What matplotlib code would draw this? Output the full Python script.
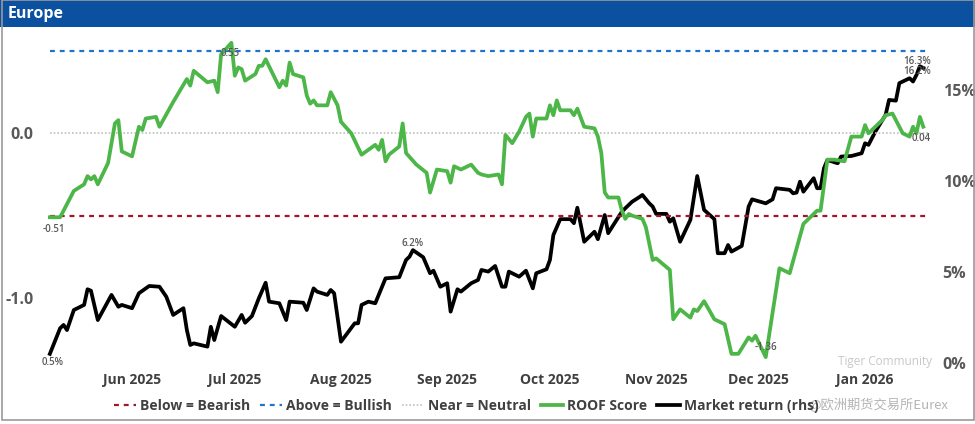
import matplotlib
matplotlib.use("Agg")
import matplotlib.pyplot as plt
import matplotlib.dates as mdates
from matplotlib.patches import Rectangle
import pandas as pd

plt.rcParams['font.family'] = ['Open Sans', 'Noto Sans CJK SC', 'DejaVu Sans']

TITLE = "Europe"

# ROOF score (left axis)
roof_dates = [
    "2025-05-08", "2025-05-11", "2025-05-15", "2025-05-18", "2025-05-19", "2025-05-20", "2025-05-21", "2025-05-22",
    "2025-05-25", "2025-05-27", "2025-05-28", "2025-05-29",
    "2025-06-01", "2025-06-03", "2025-06-04", "2025-06-05", "2025-06-08", "2025-06-09", "2025-06-13", "2025-06-17",
    "2025-06-18", "2025-06-19", "2025-06-23", "2025-06-25", "2025-06-26", "2025-06-27", "2025-06-30",
    "2025-07-01", "2025-07-02", "2025-07-03", "2025-07-04", "2025-07-07", "2025-07-08", "2025-07-09", "2025-07-10",
    "2025-07-14", "2025-07-15", "2025-07-16", "2025-07-17", "2025-07-18", "2025-07-21", "2025-07-22", "2025-07-23",
    "2025-07-24", "2025-07-25", "2025-07-28", "2025-07-29", "2025-07-31",
    "2025-08-01", "2025-08-04", "2025-08-07", "2025-08-11", "2025-08-12", "2025-08-13", "2025-08-14", "2025-08-15",
    "2025-08-18", "2025-08-19", "2025-08-20", "2025-08-23", "2025-08-26", "2025-08-27", "2025-08-29",
    "2025-09-01", "2025-09-02", "2025-09-03", "2025-09-05", "2025-09-08", "2025-09-10", "2025-09-11", "2025-09-13",
    "2025-09-16", "2025-09-17", "2025-09-18", "2025-09-20", "2025-09-22", "2025-09-24", "2025-09-25", "2025-09-26",
    "2025-09-27", "2025-09-30",
    "2025-10-01", "2025-10-02", "2025-10-03", "2025-10-04", "2025-10-07", "2025-10-08", "2025-10-09", "2025-10-11",
    "2025-10-14", "2025-10-15", "2025-10-16", "2025-10-17", "2025-10-18", "2025-10-21", "2025-10-22", "2025-10-23",
    "2025-10-24", "2025-10-25", "2025-10-28", "2025-10-29", "2025-10-31",
    "2025-11-01", "2025-11-05", "2025-11-06", "2025-11-08", "2025-11-11", "2025-11-12", "2025-11-13", "2025-11-15",
    "2025-11-18", "2025-11-21", "2025-11-23", "2025-11-25", "2025-11-28", "2025-11-29", "2025-11-30",
    "2025-12-03", "2025-12-07", "2025-12-10", "2025-12-14", "2025-12-18", "2025-12-19", "2025-12-21", "2025-12-23",
    "2025-12-26", "2025-12-28", "2025-12-31",
    "2026-01-01", "2026-01-02", "2026-01-06", "2026-01-07", "2026-01-09", "2026-01-10", "2026-01-12", "2026-01-14",
    "2026-01-15", "2026-01-16", "2026-01-17", "2026-01-18",
]
roof_score = [
    -0.51, -0.51, -0.35, -0.31, -0.26, -0.28, -0.26, -0.31,
    -0.18, 0.06, 0.08, -0.11,
    -0.14, 0.04, 0.02, 0.09, 0.10, 0.04, 0.19, 0.33,
    0.29, 0.38, 0.31, 0.32, 0.25, 0.48, 0.55,
    0.35, 0.40, 0.39, 0.32, 0.36, 0.41, 0.41, 0.45,
    0.28, 0.32, 0.29, 0.43, 0.36, 0.34, 0.23, 0.18,
    0.20, 0.17, 0.17, 0.25, 0.17,
    0.07, 0.00, -0.13, -0.07, -0.10, -0.04, -0.17, -0.13,
    -0.08, 0.06, -0.12, -0.19, -0.24, -0.36, -0.22,
    -0.23, -0.30, -0.20, -0.22, -0.19, -0.24, -0.25, -0.26,
    -0.25, -0.31, -0.01, -0.06, 0.01, 0.10, 0.12, -0.02,
    0.09, 0.09,
    0.17, 0.11, 0.20, 0.14, 0.14, 0.11, 0.15, 0.04,
    0.03, -0.02, -0.12, -0.36, -0.39, -0.39, -0.47, -0.52,
    -0.49, -0.50, -0.52, -0.57, -0.77,
    -0.76, -0.83, -1.13, -1.07, -1.12, -1.07, -1.08, -1.02,
    -1.13, -1.16, -1.34, -1.34, -1.24, -1.26, -1.23,
    -1.36, -0.82, -0.85, -0.55, -0.47, -0.47, -0.16, -0.16,
    -0.17, -0.02, -0.02,
    0.05, 0.00, 0.08, 0.11, 0.12, 0.08, 0.00, -0.02,
    0.04, 0.00, 0.10, 0.04,
]

# Market return, % (right axis)
ret_dates = [
    "2025-05-08", "2025-05-11", "2025-05-12", "2025-05-13", "2025-05-15", "2025-05-18", "2025-05-19", "2025-05-20",
    "2025-05-22", "2025-05-26", "2025-05-28", "2025-05-29",
    "2025-06-01", "2025-06-03", "2025-06-06", "2025-06-09", "2025-06-11", "2025-06-13", "2025-06-16", "2025-06-17",
    "2025-06-18", "2025-06-19", "2025-06-23", "2025-06-24", "2025-06-25", "2025-06-27",
    "2025-07-01", "2025-07-03", "2025-07-04", "2025-07-06", "2025-07-08", "2025-07-10", "2025-07-11", "2025-07-14",
    "2025-07-16", "2025-07-17", "2025-07-21", "2025-07-22", "2025-07-24", "2025-07-25", "2025-07-28", "2025-07-29",
    "2025-07-30",
    "2025-08-01", "2025-08-05", "2025-08-06", "2025-08-07", "2025-08-09", "2025-08-11", "2025-08-14", "2025-08-18",
    "2025-08-20", "2025-08-21", "2025-08-22", "2025-08-25", "2025-08-27", "2025-08-28", "2025-08-30",
    "2025-09-01", "2025-09-02", "2025-09-04", "2025-09-05", "2025-09-08", "2025-09-10", "2025-09-11", "2025-09-13",
    "2025-09-15", "2025-09-17", "2025-09-18", "2025-09-19", "2025-09-22", "2025-09-24", "2025-09-26", "2025-09-27",
    "2025-09-30",
    "2025-10-01", "2025-10-02", "2025-10-04", "2025-10-07", "2025-10-08", "2025-10-09", "2025-10-11", "2025-10-14",
    "2025-10-15", "2025-10-17", "2025-10-18", "2025-10-22", "2025-10-23", "2025-10-25", "2025-10-27", "2025-10-28",
    "2025-10-30", "2025-10-31",
    "2025-11-01", "2025-11-04", "2025-11-05", "2025-11-06", "2025-11-08", "2025-11-11", "2025-11-13", "2025-11-15",
    "2025-11-18", "2025-11-19", "2025-11-21", "2025-11-22", "2025-11-23", "2025-11-26", "2025-11-28", "2025-11-29",
    "2025-12-03", "2025-12-05", "2025-12-06", "2025-12-10", "2025-12-11", "2025-12-12", "2025-12-13", "2025-12-14",
    "2025-12-17", "2025-12-18", "2025-12-19", "2025-12-20", "2025-12-21", "2025-12-24", "2025-12-25", "2025-12-28",
    "2025-12-31",
    "2026-01-01", "2026-01-02", "2026-01-04", "2026-01-07", "2026-01-08", "2026-01-10", "2026-01-11", "2026-01-12",
    "2026-01-14", "2026-01-15", "2026-01-16", "2026-01-17", "2026-01-18",
]
market_ret = [
    0.5, 1.91, 2.09, 1.81, 2.91, 3.19, 4.05, 3.97,
    2.36, 3.74, 3.09, 3.19,
    3.01, 3.83, 4.23, 4.19, 3.64, 2.64, 3.01, 1.81,
    0.99, 1.08, 0.90, 1.99, 1.26, 2.58,
    1.99, 2.64, 2.21, 2.58, 3.55, 4.41, 3.37, 3.28,
    2.36, 3.37, 3.31, 2.91, 4.10, 3.92, 3.74, 4.01,
    3.83,
    1.17, 2.18, 2.18, 3.19, 3.37, 3.28, 4.65, 4.71,
    5.66, 5.84, 6.2, 5.81, 4.93, 5.07, 4.19,
    4.38, 2.82, 4.05, 3.92, 4.38, 4.56, 5.11, 5.02,
    5.33, 4.19, 4.19, 5.02, 4.74, 5.07, 4.10, 4.93,
    5.15,
    5.66, 7.03, 7.90, 7.90, 7.68, 8.53, 6.66, 7.21,
    6.80, 8.13, 7.13, 8.31, 8.50, 8.86, 9.10, 9.23,
    8.77, 8.59,
    8.19, 8.19, 7.76, 7.95, 6.66, 7.86, 10.27, 8.41,
    7.90, 6.03, 6.03, 6.48, 6.12, 6.43, 8.59, 8.99,
    8.77, 8.99, 9.60, 9.51, 9.32, 9.36, 9.96, 9.41,
    10.15, 9.60, 9.60, 10.70, 11.15, 10.97, 11.34, 11.37,
    11.52,
    12.07, 11.98, 12.71, 13.63, 14.45, 14.41, 15.37, 15.46,
    15.64, 15.46, 15.82, 16.3, 16.2,
]

# reference levels for the score
ref_dates = ["2025-05-08", "2026-01-20"]
bearish_level = -0.5
bullish_level = 0.5
neutral_level = 0.0

rd = pd.to_datetime(roof_dates)
md = pd.to_datetime(ret_dates)
refd = pd.to_datetime(ref_dates)

GREEN = "#4CB648"
BLUE = "#1F74CC"
RED = "#A3152B"
GREY_DOT = "#BFBFBF"
TXT = "#595959"

fig = plt.figure(figsize=(9.75, 4.24), dpi=100)
W, H = 975, 424
# title bar + frame
fig.patches.append(Rectangle((0, 1 - 27 / H), 1, 27 / H, transform=fig.transFigure,
                             facecolor="#0B51A0", edgecolor="none", zorder=0))
fig.patches.append(Rectangle((1.5 / W, 4 / H), 1 - 3 / W, 1 - 4 / H, transform=fig.transFigure,
                             facecolor="none", edgecolor="#9A9A9A", lw=1.2, zorder=1))
fig.text(8 / W, 1 - 14 / H, TITLE, color="white", fontsize=11.5, fontweight="bold", va="center", ha="left")

ax = fig.add_axes([43 / W, 1 - 367 / H, (937 - 43) / W, (367 - 28) / H])
ax2 = ax.twinx()
ax.set_zorder(ax2.get_zorder() + 1)
ax.patch.set_visible(False)

ax.plot(refd, [bearish_level] * 2, color=RED, lw=1.6, ls=(0, (2.2, 2.2)), label="Below = Bearish")
ax.plot(refd, [bullish_level] * 2, color=BLUE, lw=1.6, ls=(0, (2.2, 2.2)), label="Above = Bullish")
ax.plot(refd, [neutral_level] * 2, color=GREY_DOT, lw=1.2, ls=(0, (1, 1.2)), label="Near = Neutral")
l1, = ax.plot(rd, roof_score, color=GREEN, lw=2.7, label="ROOF Score", solid_joinstyle="round")
l2, = ax2.plot(md, market_ret, color="black", lw=2.7, label="Market return (rhs)", solid_joinstyle="round")

ax.set_xlim(pd.Timestamp("2025-05-06"), pd.Timestamp("2026-01-22"))
ax.set_ylim(-1.42, 0.64)
ax2.set_ylim(-0.22, 18.4)
ax.set_yticks([-1.0, 0.0])
ax.set_yticklabels(["-1.0", "0.0"])
ax2.set_yticks([0, 5, 10, 15])
ax2.set_yticklabels(["0%", "5%", "10%", "15%"])
ax.xaxis.set_major_locator(mdates.MonthLocator(bymonth=[6, 7, 8, 9, 10, 11, 12, 1]))
ax.xaxis.set_major_formatter(mdates.DateFormatter("%b %Y"))

for a in (ax, ax2):
    for s in a.spines.values():
        s.set_visible(False)
ax.tick_params(axis="y", length=0, pad=7, labelsize=11.5, labelcolor=TXT)
ax2.tick_params(axis="y", length=0, pad=4, labelsize=11.5, labelcolor=TXT)
ax.tick_params(axis="x", length=0, pad=4, labelsize=10, labelcolor="#404040")
for t in ax.get_yticklabels() + ax2.get_yticklabels() + ax.get_xticklabels():
    t.set_fontweight("bold")

# point labels
def lab(a, x, y, text, dx, dy):
    a.annotate(text, (x, y), xytext=(dx, dy), textcoords="offset pixels", ha="center", va="center",
               fontsize=7, color=TXT, fontweight="semibold", zorder=5)

i_min = roof_score.index(min(roof_score))
i_max = roof_score.index(max(roof_score))
lab(ax, rd[0], roof_score[0], f"{roof_score[0]:.2f}", 4, -12)
lab(ax, rd[i_max], roof_score[i_max], f"{roof_score[i_max]:.2f}", -1, -11)
lab(ax, rd[i_min], roof_score[i_min], f"{roof_score[i_min]:.2f}", 0, 10)
lab(ax, rd[-1], roof_score[-1], f"{roof_score[-1]:.2f}", -2, -12)

j_peak = market_ret.index(6.2)
j_max = market_ret.index(max(market_ret))
lab(ax2, md[0], market_ret[0], f"{market_ret[0]:.1f}%", 3, -9)
lab(ax2, md[j_peak], market_ret[j_peak], f"{market_ret[j_peak]:.1f}%", 0, 7)
lab(ax2, md[j_max], market_ret[j_max], f"{market_ret[j_max]:.1f}%", -3, 5)
lab(ax2, md[-1], market_ret[-1], f"{market_ret[-1]:.1f}%", -6, -3)

handles = ax.get_lines()[:3] + [l1, l2]
leg = fig.legend(handles, [h.get_label() for h in handles], loc="center", bbox_to_anchor=(0.478, 1 - 406 / H),
                 ncol=5, frameon=False, fontsize=10, handlelength=1.6, handletextpad=0.3, columnspacing=0.7)
for t in leg.get_texts():
    t.set_fontweight("bold")
    t.set_color("#404040")

# source watermarks
fig.text(838 / W, 1 - 361 / H, "Tiger Community", color="#C8C8C8", fontsize=8.5, va="center", ha="left")
fig.text(808 / W, 1 - 405 / H, "@欧洲期货交易所Eurex", color="#B4B4B4", fontsize=9.5, va="center", ha="left",
         family=["Noto Sans CJK SC", "DejaVu Sans"])

fig.savefig("out.png", dpi=100)
